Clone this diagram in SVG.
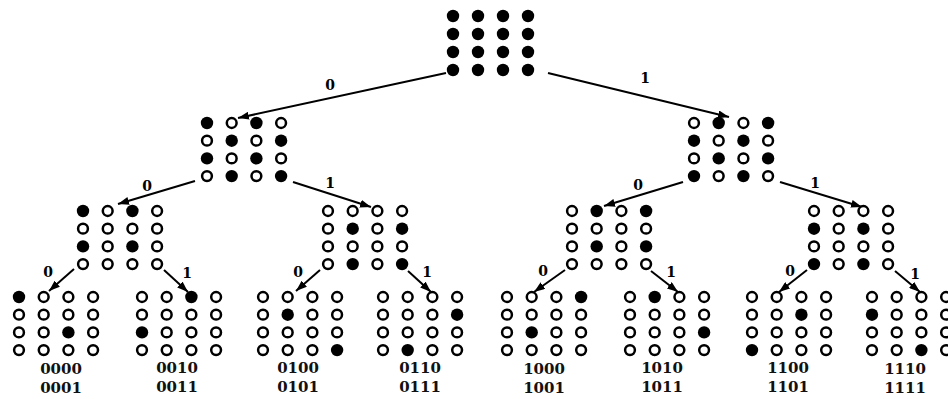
<svg xmlns="http://www.w3.org/2000/svg" xmlns:xlink="http://www.w3.org/1999/xlink" width="948" height="399" viewBox="0 0 948 399">
<style>
.e{stroke:#000;stroke-width:2;fill:none;marker-end:url(#ah)}
.el{font-family:"DejaVu Serif","Liberation Serif",serif;font-weight:bold;font-size:14px;text-anchor:middle;fill:#000}
.lb{font-family:"DejaVu Serif","Liberation Serif",serif;font-weight:bold;font-size:15px;text-anchor:middle;fill:#111}
</style>
<defs>
<marker id="ah" markerUnits="userSpaceOnUse" markerWidth="11" markerHeight="8" refX="11" refY="4" orient="auto"><path d="M0,0 L11,4 L0,8 z" fill="#000"/></marker>
<circle id="f" r="6.2" fill="#000"/>
<circle id="o" r="4.9" fill="#fff" stroke="#000" stroke-width="2.5"/>
</defs>
<rect width="948" height="399" fill="#fff"/>
<g id="connectors">
<line class="e" x1="446" y1="73" x2="238" y2="118"/>
<line class="e" x1="548" y1="73" x2="729" y2="117"/>
<line class="e" x1="195" y1="181" x2="118" y2="204"/>
<line class="e" x1="293" y1="182" x2="371" y2="207"/>
<line class="e" x1="683" y1="182" x2="604" y2="206"/>
<line class="e" x1="780" y1="182" x2="862" y2="207"/>
<line class="e" x1="74" y1="269" x2="49" y2="291"/>
<line class="e" x1="164" y1="270" x2="188" y2="292"/>
<line class="e" x1="320" y1="270" x2="296" y2="291"/>
<line class="e" x1="408" y1="271" x2="431" y2="292"/>
<line class="e" x1="565" y1="270" x2="534" y2="292"/>
<line class="e" x1="651" y1="271" x2="678" y2="292"/>
<line class="e" x1="807" y1="270" x2="779" y2="292"/>
<line class="e" x1="895" y1="271" x2="920" y2="292"/>
<text class="el" x="330" y="90">0</text>
<text class="el" x="645" y="83">1</text>
<text class="el" x="147" y="191">0</text>
<text class="el" x="330" y="188">1</text>
<text class="el" x="638" y="190">0</text>
<text class="el" x="815" y="188">1</text>
<text class="el" x="48" y="277">0</text>
<text class="el" x="187" y="278">1</text>
<text class="el" x="298" y="277">0</text>
<text class="el" x="427" y="277">1</text>
<text class="el" x="543" y="276">0</text>
<text class="el" x="671" y="277">1</text>
<text class="el" x="790" y="276">0</text>
<text class="el" x="915" y="279">1</text>
</g>
<g id="root" transform="translate(453,16)">
<use href="#f" x="0" y="0"/><use href="#f" x="25" y="0"/><use href="#f" x="50" y="0"/><use href="#f" x="75" y="0"/>
<use href="#f" x="0" y="18"/><use href="#f" x="25" y="18"/><use href="#f" x="50" y="18"/><use href="#f" x="75" y="18"/>
<use href="#f" x="0" y="36"/><use href="#f" x="25" y="36"/><use href="#f" x="50" y="36"/><use href="#f" x="75" y="36"/>
<use href="#f" x="0" y="54"/><use href="#f" x="25" y="54"/><use href="#f" x="50" y="54"/><use href="#f" x="75" y="54"/>
</g>
<g id="n0" transform="translate(207,123)">
<use href="#f" x="0" y="0"/><use href="#o" x="24.7" y="0"/><use href="#f" x="49.4" y="0"/><use href="#o" x="74.1" y="0"/>
<use href="#o" x="0" y="17.7"/><use href="#f" x="24.7" y="17.7"/><use href="#o" x="49.4" y="17.7"/><use href="#f" x="74.1" y="17.7"/>
<use href="#f" x="0" y="35.4"/><use href="#o" x="24.7" y="35.4"/><use href="#f" x="49.4" y="35.4"/><use href="#o" x="74.1" y="35.4"/>
<use href="#o" x="0" y="53.1"/><use href="#f" x="24.7" y="53.1"/><use href="#o" x="49.4" y="53.1"/><use href="#f" x="74.1" y="53.1"/>
</g>
<g id="n1" transform="translate(694,123)">
<use href="#o" x="0" y="0"/><use href="#f" x="24.7" y="0"/><use href="#o" x="49.4" y="0"/><use href="#f" x="74.1" y="0"/>
<use href="#f" x="0" y="17.7"/><use href="#o" x="24.7" y="17.7"/><use href="#f" x="49.4" y="17.7"/><use href="#o" x="74.1" y="17.7"/>
<use href="#o" x="0" y="35.4"/><use href="#f" x="24.7" y="35.4"/><use href="#o" x="49.4" y="35.4"/><use href="#f" x="74.1" y="35.4"/>
<use href="#f" x="0" y="53.1"/><use href="#o" x="24.7" y="53.1"/><use href="#f" x="49.4" y="53.1"/><use href="#o" x="74.1" y="53.1"/>
</g>
<g id="n00" transform="translate(83,211)">
<use href="#f" x="0" y="0"/><use href="#o" x="24.7" y="0"/><use href="#f" x="49.4" y="0"/><use href="#o" x="74.1" y="0"/>
<use href="#o" x="0" y="17.7"/><use href="#o" x="24.7" y="17.7"/><use href="#o" x="49.4" y="17.7"/><use href="#o" x="74.1" y="17.7"/>
<use href="#f" x="0" y="35.4"/><use href="#o" x="24.7" y="35.4"/><use href="#f" x="49.4" y="35.4"/><use href="#o" x="74.1" y="35.4"/>
<use href="#o" x="0" y="53.1"/><use href="#o" x="24.7" y="53.1"/><use href="#o" x="49.4" y="53.1"/><use href="#o" x="74.1" y="53.1"/>
</g>
<g id="n01" transform="translate(328,211)">
<use href="#o" x="0" y="0"/><use href="#o" x="24.7" y="0"/><use href="#o" x="49.4" y="0"/><use href="#o" x="74.1" y="0"/>
<use href="#o" x="0" y="17.7"/><use href="#f" x="24.7" y="17.7"/><use href="#o" x="49.4" y="17.7"/><use href="#f" x="74.1" y="17.7"/>
<use href="#o" x="0" y="35.4"/><use href="#o" x="24.7" y="35.4"/><use href="#o" x="49.4" y="35.4"/><use href="#o" x="74.1" y="35.4"/>
<use href="#o" x="0" y="53.1"/><use href="#f" x="24.7" y="53.1"/><use href="#o" x="49.4" y="53.1"/><use href="#f" x="74.1" y="53.1"/>
</g>
<g id="n10" transform="translate(572,211)">
<use href="#o" x="0" y="0"/><use href="#f" x="24.7" y="0"/><use href="#o" x="49.4" y="0"/><use href="#f" x="74.1" y="0"/>
<use href="#o" x="0" y="17.7"/><use href="#o" x="24.7" y="17.7"/><use href="#o" x="49.4" y="17.7"/><use href="#o" x="74.1" y="17.7"/>
<use href="#o" x="0" y="35.4"/><use href="#f" x="24.7" y="35.4"/><use href="#o" x="49.4" y="35.4"/><use href="#f" x="74.1" y="35.4"/>
<use href="#o" x="0" y="53.1"/><use href="#o" x="24.7" y="53.1"/><use href="#o" x="49.4" y="53.1"/><use href="#o" x="74.1" y="53.1"/>
</g>
<g id="n11" transform="translate(814,211)">
<use href="#o" x="0" y="0"/><use href="#o" x="24.7" y="0"/><use href="#o" x="49.4" y="0"/><use href="#o" x="74.1" y="0"/>
<use href="#f" x="0" y="17.7"/><use href="#o" x="24.7" y="17.7"/><use href="#f" x="49.4" y="17.7"/><use href="#o" x="74.1" y="17.7"/>
<use href="#o" x="0" y="35.4"/><use href="#o" x="24.7" y="35.4"/><use href="#o" x="49.4" y="35.4"/><use href="#o" x="74.1" y="35.4"/>
<use href="#f" x="0" y="53.1"/><use href="#o" x="24.7" y="53.1"/><use href="#f" x="49.4" y="53.1"/><use href="#o" x="74.1" y="53.1"/>
</g>
<g id="n000" transform="translate(19,297)">
<use href="#f" x="0" y="0"/><use href="#o" x="24.7" y="0"/><use href="#o" x="49.4" y="0"/><use href="#o" x="74.1" y="0"/>
<use href="#o" x="0" y="17.7"/><use href="#o" x="24.7" y="17.7"/><use href="#o" x="49.4" y="17.7"/><use href="#o" x="74.1" y="17.7"/>
<use href="#o" x="0" y="35.4"/><use href="#o" x="24.7" y="35.4"/><use href="#f" x="49.4" y="35.4"/><use href="#o" x="74.1" y="35.4"/>
<use href="#o" x="0" y="53.1"/><use href="#o" x="24.7" y="53.1"/><use href="#o" x="49.4" y="53.1"/><use href="#o" x="74.1" y="53.1"/>
<text class="lb" x="42" y="77">0000</text><text class="lb" x="42" y="96">0001</text>
</g>
<g id="n001" transform="translate(142,297)">
<use href="#o" x="0" y="0"/><use href="#o" x="24.7" y="0"/><use href="#f" x="49.4" y="0"/><use href="#o" x="74.1" y="0"/>
<use href="#o" x="0" y="17.7"/><use href="#o" x="24.7" y="17.7"/><use href="#o" x="49.4" y="17.7"/><use href="#o" x="74.1" y="17.7"/>
<use href="#f" x="0" y="35.4"/><use href="#o" x="24.7" y="35.4"/><use href="#o" x="49.4" y="35.4"/><use href="#o" x="74.1" y="35.4"/>
<use href="#o" x="0" y="53.1"/><use href="#o" x="24.7" y="53.1"/><use href="#o" x="49.4" y="53.1"/><use href="#o" x="74.1" y="53.1"/>
<text class="lb" x="35" y="76">0010</text><text class="lb" x="35" y="95">0011</text>
</g>
<g id="n010" transform="translate(263,297)">
<use href="#o" x="0" y="0"/><use href="#o" x="24.7" y="0"/><use href="#o" x="49.4" y="0"/><use href="#o" x="74.1" y="0"/>
<use href="#o" x="0" y="17.7"/><use href="#f" x="24.7" y="17.7"/><use href="#o" x="49.4" y="17.7"/><use href="#o" x="74.1" y="17.7"/>
<use href="#o" x="0" y="35.4"/><use href="#o" x="24.7" y="35.4"/><use href="#o" x="49.4" y="35.4"/><use href="#o" x="74.1" y="35.4"/>
<use href="#o" x="0" y="53.1"/><use href="#o" x="24.7" y="53.1"/><use href="#o" x="49.4" y="53.1"/><use href="#f" x="74.1" y="53.1"/>
<text class="lb" x="35" y="76">0100</text><text class="lb" x="35" y="95">0101</text>
</g>
<g id="n011" transform="translate(383,297)">
<use href="#o" x="0" y="0"/><use href="#o" x="24.7" y="0"/><use href="#o" x="49.4" y="0"/><use href="#o" x="74.1" y="0"/>
<use href="#o" x="0" y="17.7"/><use href="#o" x="24.7" y="17.7"/><use href="#o" x="49.4" y="17.7"/><use href="#f" x="74.1" y="17.7"/>
<use href="#o" x="0" y="35.4"/><use href="#o" x="24.7" y="35.4"/><use href="#o" x="49.4" y="35.4"/><use href="#o" x="74.1" y="35.4"/>
<use href="#o" x="0" y="53.1"/><use href="#f" x="24.7" y="53.1"/><use href="#o" x="49.4" y="53.1"/><use href="#o" x="74.1" y="53.1"/>
<text class="lb" x="37" y="76">0110</text><text class="lb" x="37" y="95">0111</text>
</g>
<g id="n100" transform="translate(507,297)">
<use href="#o" x="0" y="0"/><use href="#o" x="24.7" y="0"/><use href="#o" x="49.4" y="0"/><use href="#f" x="74.1" y="0"/>
<use href="#o" x="0" y="17.7"/><use href="#o" x="24.7" y="17.7"/><use href="#o" x="49.4" y="17.7"/><use href="#o" x="74.1" y="17.7"/>
<use href="#o" x="0" y="35.4"/><use href="#f" x="24.7" y="35.4"/><use href="#o" x="49.4" y="35.4"/><use href="#o" x="74.1" y="35.4"/>
<use href="#o" x="0" y="53.1"/><use href="#o" x="24.7" y="53.1"/><use href="#o" x="49.4" y="53.1"/><use href="#o" x="74.1" y="53.1"/>
<text class="lb" x="37" y="77">1000</text><text class="lb" x="37" y="96">1001</text>
</g>
<g id="n101" transform="translate(630,297)">
<use href="#o" x="0" y="0"/><use href="#f" x="24.7" y="0"/><use href="#o" x="49.4" y="0"/><use href="#o" x="74.1" y="0"/>
<use href="#o" x="0" y="17.7"/><use href="#o" x="24.7" y="17.7"/><use href="#o" x="49.4" y="17.7"/><use href="#o" x="74.1" y="17.7"/>
<use href="#o" x="0" y="35.4"/><use href="#o" x="24.7" y="35.4"/><use href="#o" x="49.4" y="35.4"/><use href="#f" x="74.1" y="35.4"/>
<use href="#o" x="0" y="53.1"/><use href="#o" x="24.7" y="53.1"/><use href="#o" x="49.4" y="53.1"/><use href="#o" x="74.1" y="53.1"/>
<text class="lb" x="32" y="76">1010</text><text class="lb" x="32" y="95">1011</text>
</g>
<g id="n110" transform="translate(752,297)">
<use href="#o" x="0" y="0"/><use href="#o" x="24.7" y="0"/><use href="#o" x="49.4" y="0"/><use href="#o" x="74.1" y="0"/>
<use href="#o" x="0" y="17.7"/><use href="#o" x="24.7" y="17.7"/><use href="#f" x="49.4" y="17.7"/><use href="#o" x="74.1" y="17.7"/>
<use href="#o" x="0" y="35.4"/><use href="#o" x="24.7" y="35.4"/><use href="#o" x="49.4" y="35.4"/><use href="#o" x="74.1" y="35.4"/>
<use href="#f" x="0" y="53.1"/><use href="#o" x="24.7" y="53.1"/><use href="#o" x="49.4" y="53.1"/><use href="#o" x="74.1" y="53.1"/>
<text class="lb" x="36" y="76">1100</text><text class="lb" x="36" y="95">1101</text>
</g>
<g id="n111" transform="translate(872,297)">
<use href="#o" x="0" y="0"/><use href="#o" x="24.7" y="0"/><use href="#o" x="49.4" y="0"/><use href="#o" x="74.1" y="0"/>
<use href="#f" x="0" y="17.7"/><use href="#o" x="24.7" y="17.7"/><use href="#o" x="49.4" y="17.7"/><use href="#o" x="74.1" y="17.7"/>
<use href="#o" x="0" y="35.4"/><use href="#o" x="24.7" y="35.4"/><use href="#o" x="49.4" y="35.4"/><use href="#o" x="74.1" y="35.4"/>
<use href="#o" x="0" y="53.1"/><use href="#o" x="24.7" y="53.1"/><use href="#f" x="49.4" y="53.1"/><use href="#o" x="74.1" y="53.1"/>
<text class="lb" x="33" y="77">1110</text><text class="lb" x="33" y="96">1111</text>
</g>
</svg>
